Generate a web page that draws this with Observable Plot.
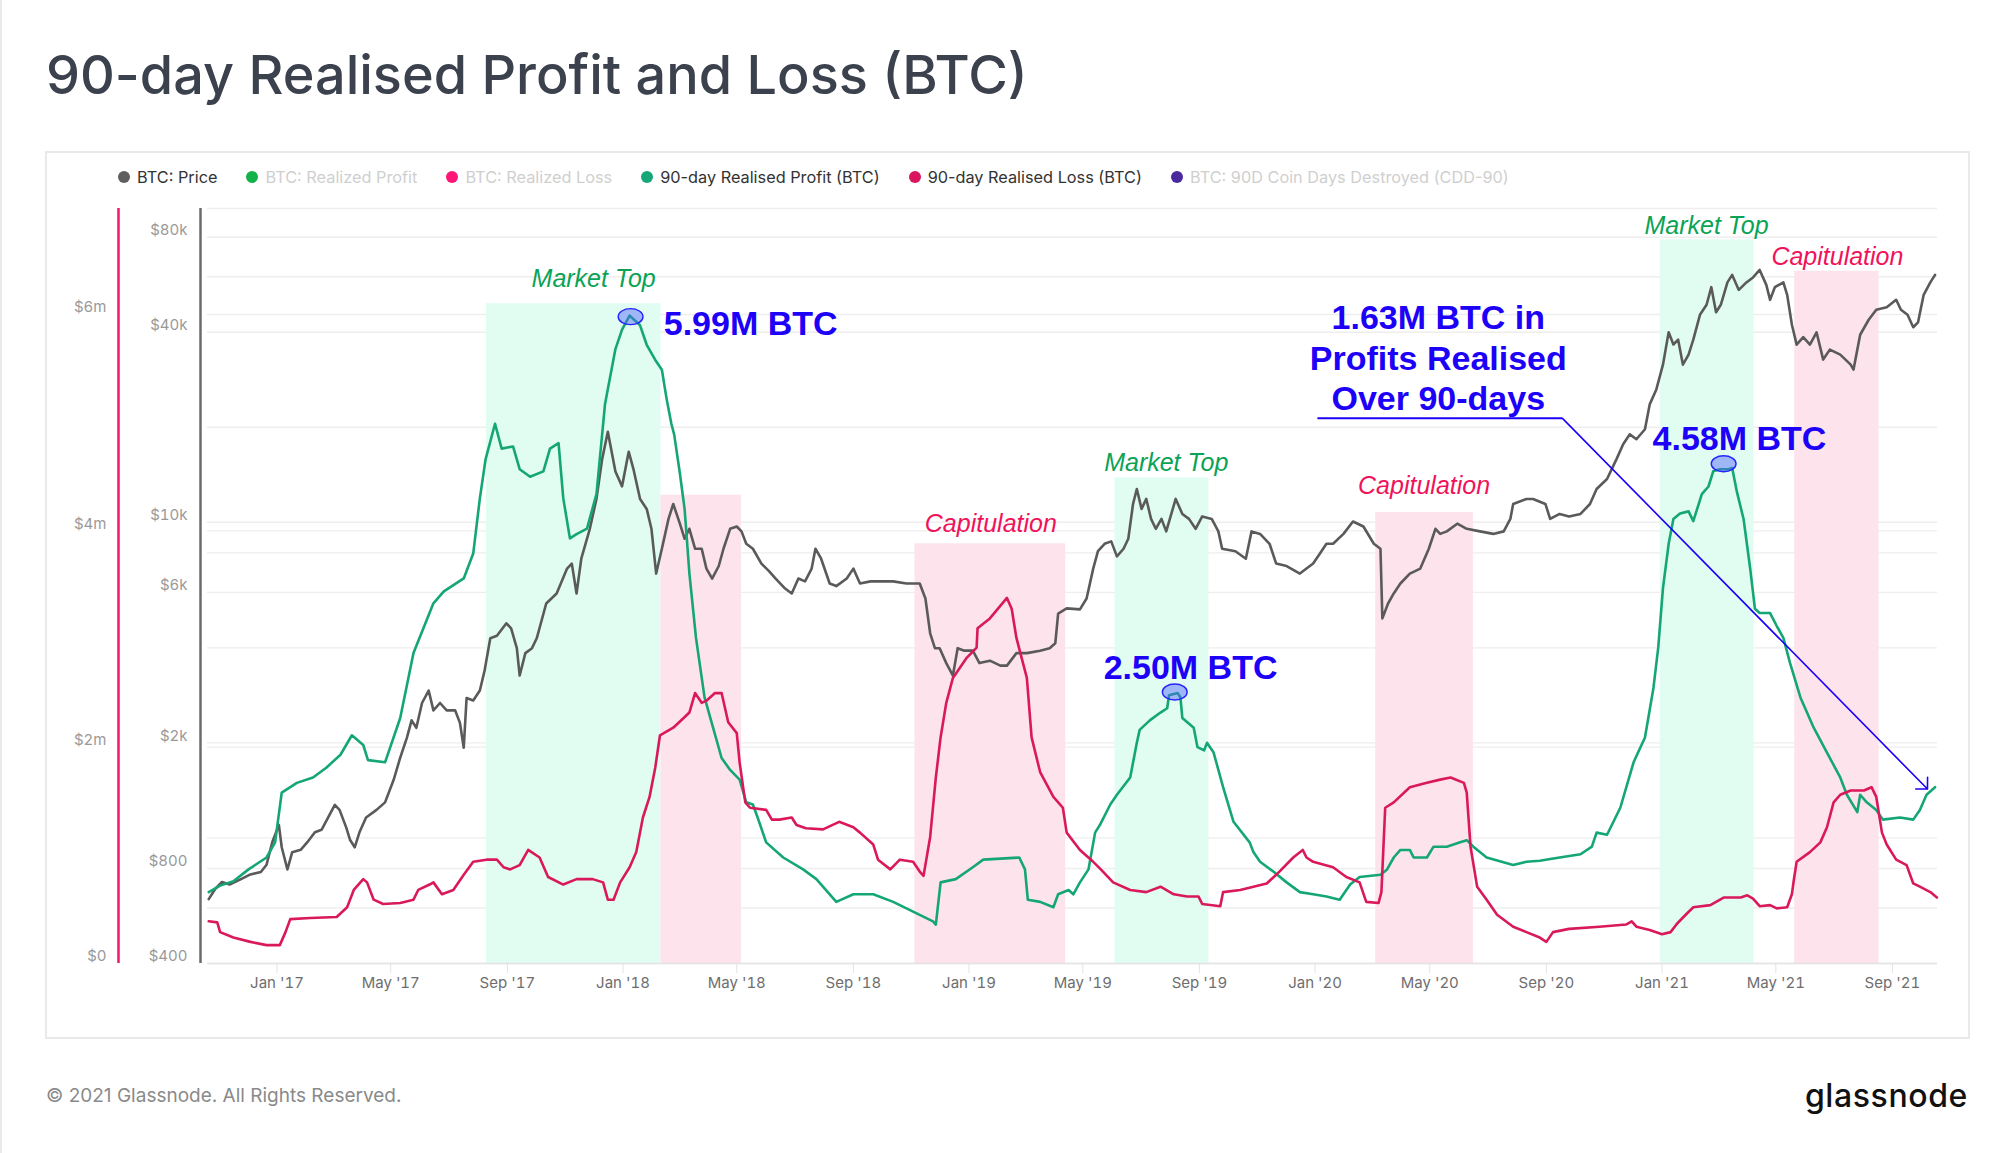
<!DOCTYPE html>
<html><head><meta charset="utf-8">
<script src="https://cdn.jsdelivr.net/npm/d3@7"></script>
<script src="https://cdn.jsdelivr.net/npm/@observablehq/plot@0.6"></script>
<style>
html,body{margin:0;padding:0;background:#fff;overflow:hidden;}
#page{position:relative;width:2000px;height:1153px;overflow:hidden;background:#fff;font-family:Inter,"Noto Sans",sans-serif;}
#edge{position:absolute;left:0;top:0;width:2px;height:1153px;background:#e9e9e9;}
#title{position:absolute;left:46px;top:48px;font-size:54px;line-height:54px;font-weight:500;color:#3b414d;white-space:nowrap;}
#card{position:absolute;left:45px;top:151px;width:1921px;height:884px;border:2px solid #e9e9e9;}
#legend{position:absolute;left:118px;top:167px;display:flex;align-items:center;font-size:16.3px;line-height:20px;white-space:nowrap;}
#legend .item{display:flex;align-items:center;margin-right:29px;}
#legend .dot{width:12px;height:12px;border-radius:50%;margin-right:7px;}
#chart{position:absolute;left:0;top:0;}
#footer{position:absolute;left:46px;top:1086px;font-size:19px;line-height:19px;color:#8a8a8a;white-space:nowrap;}
#logo{position:absolute;right:32px;top:1080px;font-size:32px;line-height:32px;font-weight:500;color:#111;letter-spacing:0.6px;}
</style></head>
<body>
<div id="page">
  <div id="edge"></div>
  <div id="title">90-day Realised Profit and Loss (BTC)</div>
  <div id="card"></div>
  <div id="legend"></div>
  <div id="chart"></div>
  <div id="footer">© 2021 Glassnode. All Rights Reserved.</div>
  <div id="logo">glassnode</div>
</div>
<script>
// ---------------- DATA ----------------
const legendLabels = ["BTC: Price","BTC: Realized Profit","BTC: Realized Loss","90-day Realised Profit (BTC)","90-day Realised Loss (BTC)","BTC: 90D Coin Days Destroyed (CDD-90)"];
const legendColors = ["#5f5f5f","#13b34a","#ff1577","#16a779","#d8155d","#4a2a9e"];
const legendActive = [true,false,false,true,true,false];

// 90-day realised profit, millions of BTC
const profit90d = [
["2016-10-21",0.66],["2016-11-02",0.72],["2016-11-16",0.76],["2016-12-02",0.87],["2016-12-21",0.98],["2016-12-30",1.12],
["2017-01-06",1.58],["2017-01-22",1.67],["2017-02-08",1.72],["2017-02-22",1.81],["2017-03-09",1.93],["2017-03-21",2.11],
["2017-04-02",2.02],["2017-04-07",1.88],["2017-04-25",1.86],["2017-05-11",2.27],["2017-05-25",2.87],["2017-06-15",3.33],
["2017-06-26",3.44],["2017-07-17",3.56],["2017-07-27",3.79],["2017-08-03",4.30],["2017-08-09",4.66],["2017-08-19",4.99],
["2017-08-26",4.76],["2017-09-07",4.78],["2017-09-14",4.57],["2017-09-25",4.50],["2017-10-09",4.55],["2017-10-16",4.76],
["2017-10-25",4.81],["2017-10-30",4.30],["2017-11-06",3.93],["2017-11-13",3.97],["2017-11-24",4.02],["2017-12-04",4.34],
["2017-12-13",5.17],["2017-12-24",5.68],["2017-12-31",5.86],["2018-01-08",5.99],["2018-01-19",5.90],["2018-01-26",5.72],
["2018-02-04",5.58],["2018-02-11",5.49],["2018-02-16",5.22],["2018-02-21",4.99],["2018-02-24",4.89],["2018-03-02",4.53],
["2018-03-07",4.20],["2018-03-12",3.61],["2018-03-19",3.01],["2018-03-28",2.46],["2018-04-06",2.18],["2018-04-15",1.90],
["2018-04-24",1.79],["2018-05-04",1.70],["2018-05-11",1.49],["2018-05-18",1.47],["2018-05-23",1.35],["2018-06-01",1.12],
["2018-06-19",0.98],["2018-07-10",0.87],["2018-07-24",0.78],["2018-08-14",0.57],["2018-09-01",0.64],["2018-09-22",0.64],
["2018-10-13",0.57],["2018-11-03",0.48],["2018-11-24",0.39],["2018-11-27",0.36],["2018-12-02",0.75],["2018-12-18",0.78],
["2019-01-05",0.89],["2019-01-16",0.96],["2019-02-23",0.98],["2019-03-01",0.87],["2019-03-04",0.59],["2019-03-17",0.57],
["2019-03-31",0.52],["2019-04-05",0.64],["2019-04-16",0.68],["2019-04-21",0.64],["2019-04-28",0.75],["2019-05-07",0.87],
["2019-05-14",1.21],["2019-05-19",1.28],["2019-05-30",1.47],["2019-06-06",1.56],["2019-06-20",1.72],["2019-06-27",2.04],
["2019-06-30",2.16],["2019-07-11",2.25],["2019-07-22",2.32],["2019-07-29",2.36],["2019-07-31",2.48],["2019-08-09",2.50],
["2019-08-12",2.46],["2019-08-14",2.27],["2019-08-26",2.18],["2019-08-30",2.00],["2019-09-06",1.97],["2019-09-09",2.04],
["2019-09-16",1.95],["2019-09-26",1.63],["2019-10-07",1.31],["2019-10-24",1.12],["2019-10-28",1.03],["2019-11-04",0.94],
["2019-11-18",0.85],["2019-12-02",0.75],["2019-12-16",0.66],["2019-12-30",0.64],["2020-01-13",0.62],["2020-01-27",0.59],
["2020-02-07",0.73],["2020-02-17",0.80],["2020-03-10",0.82],["2020-03-17",0.87],["2020-03-24",0.98],["2020-03-31",1.05],
["2020-04-10",1.05],["2020-04-14",0.98],["2020-04-28",0.98],["2020-05-05",1.08],["2020-05-19",1.08],["2020-06-02",1.12],
["2020-06-09",1.14],["2020-06-16",1.08],["2020-06-30",0.98],["2020-07-28",0.91],["2020-08-11",0.94],["2020-08-25",0.95],
["2020-09-15",0.98],["2020-10-07",1.01],["2020-10-19",1.08],["2020-10-24",1.21],["2020-11-04",1.19],["2020-11-18",1.44],
["2020-12-02",1.86],["2020-12-14",2.09],["2020-12-23",2.55],["2020-12-28",2.92],["2021-01-02",3.47],["2021-01-08",3.88],
["2021-01-13",4.11],["2021-01-20",4.16],["2021-01-29",4.18],["2021-02-03",4.09],["2021-02-12",4.34],["2021-02-19",4.41],
["2021-02-24",4.55],["2021-03-03",4.57],["2021-03-12",4.57],["2021-03-16",4.58],["2021-03-21",4.36],["2021-03-28",4.11],
["2021-04-04",3.65],["2021-04-09",3.28],["2021-04-14",3.24],["2021-04-25",3.24],["2021-05-02",3.12],["2021-05-09",3.01],
["2021-05-16",2.78],["2021-05-27",2.46],["2021-06-10",2.18],["2021-06-24",1.95],["2021-07-08",1.72],["2021-07-15",1.56],
["2021-07-26",1.40],["2021-07-29",1.56],["2021-08-05",1.49],["2021-08-15",1.42],["2021-08-22",1.33],["2021-09-09",1.35],
["2021-09-23",1.33],["2021-09-30",1.42],["2021-10-07",1.56],["2021-10-16",1.63]
];

// 90-day realised loss, millions of BTC
const loss90d = [
["2016-10-21",0.39],["2016-10-30",0.38],["2016-11-02",0.29],["2016-11-16",0.24],["2016-12-04",0.20],["2016-12-21",0.17],
["2017-01-04",0.17],["2017-01-10",0.29],["2017-01-15",0.41],["2017-02-05",0.42],["2017-03-05",0.43],["2017-03-16",0.52],
["2017-03-23",0.68],["2017-04-02",0.78],["2017-04-06",0.75],["2017-04-13",0.59],["2017-04-23",0.55],["2017-05-11",0.56],
["2017-05-25",0.59],["2017-05-30",0.68],["2017-06-11",0.73],["2017-06-15",0.75],["2017-06-24",0.64],["2017-07-06",0.68],
["2017-07-17",0.82],["2017-07-27",0.94],["2017-08-10",0.96],["2017-08-21",0.96],["2017-08-28",0.89],["2017-09-04",0.87],
["2017-09-14",0.91],["2017-09-23",1.05],["2017-10-05",0.98],["2017-10-14",0.80],["2017-10-30",0.73],["2017-11-13",0.78],
["2017-11-30",0.78],["2017-12-11",0.75],["2017-12-16",0.59],["2017-12-22",0.59],["2017-12-29",0.75],["2018-01-08",0.89],
["2018-01-15",1.03],["2018-01-22",1.35],["2018-01-29",1.54],["2018-02-04",1.81],["2018-02-09",2.11],["2018-02-23",2.18],
["2018-03-06",2.27],["2018-03-12",2.32],["2018-03-18",2.50],["2018-03-25",2.41],["2018-03-30",2.43],["2018-04-08",2.50],
["2018-04-15",2.50],["2018-04-22",2.23],["2018-05-01",2.13],["2018-05-04",1.86],["2018-05-10",1.49],["2018-05-15",1.44],
["2018-06-01",1.42],["2018-06-07",1.33],["2018-06-15",1.33],["2018-06-28",1.35],["2018-07-03",1.28],["2018-07-13",1.25],
["2018-07-31",1.24],["2018-08-17",1.31],["2018-09-01",1.26],["2018-09-08",1.21],["2018-09-22",1.10],["2018-09-27",0.96],
["2018-10-10",0.87],["2018-10-20",0.96],["2018-11-03",0.94],["2018-11-10",0.85],["2018-11-14",0.81],["2018-11-21",1.17],
["2018-11-27",1.72],["2018-12-02",2.09],["2018-12-08",2.41],["2018-12-15",2.64],["2018-12-29",2.82],["2019-01-09",2.92],
["2019-01-10",3.10],["2019-01-23",3.19],["2019-02-10",3.38],["2019-02-15",3.28],["2019-02-20",3.01],["2019-03-03",2.64],
["2019-03-08",2.09],["2019-03-17",1.77],["2019-03-31",1.54],["2019-04-10",1.44],["2019-04-14",1.21],["2019-04-28",1.05],
["2019-05-12",0.94],["2019-05-19",0.88],["2019-06-02",0.75],["2019-06-20",0.68],["2019-07-07",0.66],["2019-07-22",0.71],
["2019-08-05",0.64],["2019-08-19",0.62],["2019-08-31",0.62],["2019-09-04",0.55],["2019-09-23",0.53],["2019-09-26",0.66],
["2019-10-14",0.68],["2019-10-28",0.71],["2019-11-11",0.74],["2019-11-21",0.82],["2019-12-09",0.98],["2019-12-19",1.05],
["2019-12-23",0.98],["2019-12-30",0.94],["2020-01-20",0.89],["2020-02-03",0.80],["2020-02-17",0.75],["2020-02-24",0.57],
["2020-03-08",0.56],["2020-03-11",0.66],["2020-03-15",1.44],["2020-03-24",1.49],["2020-04-10",1.63],["2020-04-28",1.67],
["2020-05-12",1.70],["2020-05-23",1.72],["2020-06-06",1.67],["2020-06-09",1.58],["2020-06-13",1.08],["2020-06-20",0.71],
["2020-06-30",0.59],["2020-07-11",0.45],["2020-07-28",0.34],["2020-08-11",0.29],["2020-08-25",0.24],["2020-09-01",0.20],
["2020-09-08",0.29],["2020-09-25",0.32],["2020-10-27",0.34],["2020-11-24",0.36],["2020-11-30",0.39],["2020-12-05",0.34],
["2020-12-19",0.31],["2021-01-01",0.27],["2021-01-10",0.29],["2021-01-17",0.37],["2021-01-27",0.46],["2021-02-03",0.52],
["2021-02-21",0.54],["2021-03-07",0.61],["2021-03-25",0.61],["2021-04-01",0.63],["2021-04-07",0.60],["2021-04-14",0.53],
["2021-04-25",0.54],["2021-05-02",0.51],["2021-05-13",0.52],["2021-05-18",0.64],["2021-05-20",0.77],["2021-05-23",0.94],
["2021-06-06",1.03],["2021-06-17",1.12],["2021-06-24",1.26],["2021-07-01",1.49],["2021-07-08",1.56],["2021-07-19",1.60],
["2021-08-02",1.60],["2021-08-10",1.63],["2021-08-15",1.54],["2021-08-21",1.21],["2021-08-26",1.10],["2021-09-05",0.96],
["2021-09-16",0.91],["2021-09-23",0.74],["2021-09-30",0.71],["2021-10-11",0.66],["2021-10-18",0.61]
];

// BTC price, USD
const btcPrice = [
["2016-10-21",640],["2016-10-28",690],["2016-11-04",725],["2016-11-12",712],["2016-11-23",738],["2016-12-04",766],
["2016-12-15",780],["2016-12-21",822],["2016-12-27",969],["2017-01-03",1100],["2017-01-06",934],["2017-01-12",794],
["2017-01-17",900],["2017-01-26",917],["2017-02-02",969],["2017-02-10",1042],["2017-02-17",1061],["2017-02-24",1161],
["2017-03-03",1272],["2017-03-08",1227],["2017-03-15",1080],["2017-03-19",987],["2017-03-24",934],["2017-03-29",1042],
["2017-04-05",1161],["2017-04-16",1227],["2017-04-25",1296],["2017-05-04",1525],["2017-05-11",1796],["2017-05-18",2076],
["2017-05-23",2358],["2017-05-28",2233],["2017-06-03",2676],["2017-06-10",2930],["2017-06-15",2535],["2017-06-22",2676],
["2017-06-29",2535],["2017-07-08",2535],["2017-07-13",2315],["2017-07-17",1930],["2017-07-20",2775],["2017-07-27",2725],
["2017-08-03",2930],["2017-08-08",3390],["2017-08-14",4290],["2017-08-21",4370],["2017-08-31",4787],["2017-09-05",4614],
["2017-09-11",3992],["2017-09-14",3270],["2017-09-20",3850],["2017-09-27",3992],["2017-10-02",4290],["2017-10-12",5530],
["2017-10-23",5950],["2017-11-03",7134],["2017-11-08",7400],["2017-11-13",5950],["2017-11-18",7668],["2017-11-27",9538],
["2017-12-04",11860],["2017-12-10",15858],["2017-12-16",19350],["2017-12-24",14480],["2017-12-31",13000],["2018-01-07",16740],
["2018-01-12",14745],["2018-01-19",11860],["2018-01-26",11027],["2018-01-31",9538],["2018-02-05",6880],["2018-02-11",8247],
["2018-02-18",10253],["2018-02-23",11430],["2018-03-02",9900],["2018-03-07",8869],["2018-03-12",9538],["2018-03-18",8247],
["2018-03-25",8247],["2018-03-30",7134],["2018-04-05",6634],["2018-04-12",7270],["2018-04-17",8247],["2018-04-24",9538],
["2018-05-01",9700],["2018-05-06",9360],["2018-05-11",8550],["2018-05-18",8247],["2018-05-27",7400],["2018-06-04",7000],
["2018-06-11",6634],["2018-06-21",6168],["2018-06-28",5950],["2018-07-05",6634],["2018-07-12",6500],["2018-07-19",7134],
["2018-07-23",8247],["2018-07-29",7668],["2018-08-07",6400],["2018-08-14",6280],["2018-08-25",6634],["2018-09-01",7134],
["2018-09-08",6400],["2018-09-19",6500],["2018-09-29",6500],["2018-10-13",6500],["2018-10-27",6400],["2018-11-10",6400],
["2018-11-16",5736],["2018-11-21",4450],["2018-11-26",3992],["2018-12-01",3992],["2018-12-08",3580],["2018-12-15",3270],
["2018-12-20",3992],["2018-12-27",3920],["2019-01-05",3920],["2019-01-12",3580],["2019-01-23",3645],["2019-02-03",3515],
["2019-02-10",3515],["2019-02-20",3850],["2019-03-03",3850],["2019-03-17",3920],["2019-03-27",3992],["2019-04-02",4140],
["2019-04-05",5140],["2019-04-14",5336],["2019-04-28",5300],["2019-05-05",5736],["2019-05-12",7134],["2019-05-17",8100],
["2019-05-24",8550],["2019-05-31",8700],["2019-06-06",7800],["2019-06-13",8247],["2019-06-18",8869],["2019-06-23",11430],
["2019-06-27",12755],["2019-07-02",11027],["2019-07-07",11860],["2019-07-12",10253],["2019-07-17",9538],["2019-07-23",10253],
["2019-07-28",9360],["2019-08-07",11860],["2019-08-14",10630],["2019-08-21",10253],["2019-08-28",9538],["2019-09-04",10440],
["2019-09-14",10253],["2019-09-21",9360],["2019-09-25",8247],["2019-10-09",8100],["2019-10-20",7668],["2019-10-26",9360],
["2019-11-04",9190],["2019-11-14",8550],["2019-11-21",7400],["2019-12-02",7270],["2019-12-16",6880],["2019-12-30",7400],
["2020-01-06",7950],["2020-01-13",8550],["2020-01-20",8550],["2020-01-31",9190],["2020-02-10",10060],["2020-02-21",9700],
["2020-03-03",8550],["2020-03-10",8247],["2020-03-12",4962],["2020-03-18",5530],["2020-03-24",5950],["2020-03-31",6400],
["2020-04-10",6880],["2020-04-21",7134],["2020-04-30",8247],["2020-05-07",9538],["2020-05-12",9190],["2020-05-19",9360],
["2020-05-30",9900],["2020-06-09",9538],["2020-06-23",9360],["2020-07-07",9190],["2020-07-18",9360],["2020-07-25",10253],
["2020-07-28",11430],["2020-08-11",11860],["2020-08-18",11860],["2020-08-31",11430],["2020-09-05",10253],["2020-09-15",10630],
["2020-09-25",10440],["2020-10-07",10630],["2020-10-17",11430],["2020-10-24",12755],["2020-11-04",13711],["2020-11-14",15858],
["2020-11-21",17680],["2020-11-28",19000],["2020-12-05",18334],["2020-12-14",19718],["2020-12-19",23640],["2020-12-26",26366],
["2021-01-02",31600],["2021-01-08",40000],["2021-01-13",36600],["2021-01-18",37918],["2021-01-23",31600],["2021-01-29",33990],
["2021-02-03",37918],["2021-02-10",45450],["2021-02-17",48900],["2021-02-22",55600],["2021-02-27",46300],["2021-03-04",48900],
["2021-03-11",57560],["2021-03-16",60800],["2021-03-23",54500],["2021-03-31",57560],["2021-04-07",59700],["2021-04-14",63043],
["2021-04-21",56540],["2021-04-25",50700],["2021-04-30",55600],["2021-05-09",57560],["2021-05-13",52580],["2021-05-18",42270],
["2021-05-23",36560],["2021-05-30",38620],["2021-06-06",36560],["2021-06-13",40000],["2021-06-20",32780],["2021-06-27",35256],
["2021-07-08",33990],["2021-07-19",31600],["2021-07-22",30480],["2021-07-29",39290],["2021-08-07",43835],["2021-08-15",47145],
["2021-08-26",48000],["2021-09-05",50700],["2021-09-10",47145],["2021-09-17",45450],["2021-09-23",41500],["2021-09-28",43000],
["2021-10-04",52580],["2021-10-11",57560],["2021-10-16",60800]
];

// shaded periods: [start, end, top (millions BTC)]
const marketTopZones = [["2017-08-10","2018-02-10",6.10],["2019-06-04","2019-09-11",4.49],["2020-12-30","2021-04-08",6.69]];
const capitulationZones = [["2018-02-10","2018-05-06",4.33],["2018-11-05","2019-04-13",3.88],["2020-03-05","2020-06-16",4.17],["2021-05-21","2021-08-18",6.40]];

// annotations (date, value in millions BTC)
const zoneLabels = [["2017-12-01",6.33,"Market Top","top"],["2019-07-28",4.63,"Market Top","top"],["2021-02-17",6.82,"Market Top","top"],
                    ["2019-01-24",4.06,"Capitulation","cap"],["2020-04-25",4.41,"Capitulation","cap"],["2021-07-05",6.53,"Capitulation","cap"]];
const peakLabels = [["2018-02-13",5.91,"5.99M BTC"],["2019-05-23",2.73,"2.50M BTC"],["2020-12-22",4.846,"4.58M BTC"]];
const peakMarkers = [["2018-01-09",5.98],["2019-08-06",2.51],["2021-03-07",4.62]];
const callout = [["2020-05-10",5.61,"1.63M BTC in\nProfits Realised\nOver 90-days"]];
const calloutUnderline = [["2020-01-04","2020-09-18",5.04]];
const calloutArrow = [["2020-09-18",5.04,"2021-10-08",1.613]];

// axes
const leftTicks = [0, 2, 4, 6];
const leftTickLabels = ["$0", "$2m", "$4m", "$6m"];
const priceTicks = [400, 800, 2000, 6000, 10000, 40000, 80000];
const priceTickLabels = ["$400", "$800", "$2k", "$6k", "$10k", "$40k", "$80k"];
const priceGrid = [400, 600, 800, 1000, 2000, 4000, 6000, 8000, 10000, 20000, 40000, 60000, 80000];
const xTicks = ["2017-01-01","2017-05-01","2017-09-01","2018-01-01","2018-05-01","2018-09-01","2019-01-01","2019-05-01",
                "2019-09-01","2020-01-01","2020-05-01","2020-09-01","2021-01-01","2021-05-01","2021-09-01"];

// scale domains
const xDomain = [new Date("2016-10-19T17:00Z"), new Date("2021-10-18T14:00Z")];
const YMAX = 6.98;              // millions BTC at top of plot
const PRICE_MIN = 400, PRICE_DOUBLINGS = 7.947; // log price axis sharing the same vertical range

// ---------------- BUILD ----------------
const py = p => Math.log2(p / PRICE_MIN) / PRICE_DOUBLINGS * YMAX;
const rows = arr => arr.map(([d, v]) => ({date: new Date(d), value: v}));
const profitRows = rows(profit90d), lossRows = rows(loss90d), priceRows = rows(btcPrice);
const zoneRows = arr => arr.map(([a, b, t]) => ({start: new Date(a), end: new Date(b), top: t}));
const leftLabelMap = new Map(leftTicks.map((t, i) => [t, leftTickLabels[i]]));
const priceY = priceTicks.map(py);
const priceLabelMap = new Map(priceY.map((t, i) => [t, priceTickLabels[i]]));
const gridValues = [...leftTicks.filter(d => d > 0), ...priceGrid.map(py), YMAX];
const xTickDates = xTicks.map(d => new Date(d));

const ellipse = {
  draw(ctx, size) {
    const r = Math.sqrt(size / Math.PI), rx = r * 1.55, ry = r, k = 0.5523;
    ctx.moveTo(rx, 0);
    ctx.bezierCurveTo(rx, k * ry, k * rx, ry, 0, ry);
    ctx.bezierCurveTo(-k * rx, ry, -rx, k * ry, -rx, 0);
    ctx.bezierCurveTo(-rx, -k * ry, -k * rx, -ry, 0, -ry);
    ctx.bezierCurveTo(k * rx, -ry, rx, -k * ry, rx, 0);
    ctx.closePath();
  }
};

const BLUE = "#1c00f7";
const ANN_FONT = "'Liberation Sans', Arial, sans-serif";

const chart = Plot.plot({
  width: 2000, height: 1153,
  marginTop: 208, marginBottom: 190, marginLeft: 207, marginRight: 63,
  style: {background: "transparent", fontFamily: "Inter, sans-serif", fontSize: "15px", overflow: "visible"},
  x: {type: "utc", domain: xDomain},
  y: {domain: [0, YMAX]},
  marks: [
    Plot.gridY(gridValues, {stroke: "#eeeeee", strokeOpacity: 1, strokeWidth: 1.4}),
    Plot.rect(zoneRows(marketTopZones), {x1: "start", x2: "end", y1: 0, y2: "top", fill: "#e1fcf0"}),
    Plot.rect(zoneRows(capitulationZones), {x1: "start", x2: "end", y1: 0, y2: "top", fill: "#fde3ec"}),
    Plot.ruleY([0], {stroke: "#e3e3e3", strokeWidth: 1.5}),
    Plot.axisX({ticks: xTickDates, tickSize: 10, tickFormat: () => "", stroke: "#e3e3e3", label: null}),
    Plot.axisX({ticks: xTickDates, tickSize: 0, tickPadding: 14, tickFormat: d3.utcFormat("%b '%y"), color: "#6e6e6e", label: null}),
    Plot.ruleX([xDomain[0]], {y1: 0, y2: YMAX, dx: -89, stroke: "#f5176f", strokeWidth: 2.5}),
    Plot.ruleX([xDomain[0]], {y1: 0, y2: YMAX, dx: -7, stroke: "#6b6b6b", strokeWidth: 2.5}),
    Plot.axisY({ticks: leftTicks, tickSize: 0, tickPadding: 101, dy: -7, tickFormat: d => leftLabelMap.get(d), color: "#999999", label: null}),
    Plot.axisY({ticks: priceY, tickSize: 0, tickPadding: 20, dy: -7, tickFormat: d => priceLabelMap.get(d), color: "#999999", label: null}),
    Plot.line(priceRows, {x: "date", y: d => py(d.value), stroke: "#5a5a5a", strokeWidth: 2.6}),
    Plot.line(profitRows, {x: "date", y: "value", stroke: "#15a676", strokeWidth: 2.6}),
    Plot.line(lossRows, {x: "date", y: "value", stroke: "#d9195c", strokeWidth: 2.6}),
    Plot.dot(peakMarkers, {x: d => new Date(d[0]), y: d => d[1], r: 8, symbol: ellipse, fill: "#4f63ff", fillOpacity: 0.45, stroke: "#2424ff", strokeWidth: 1.4}),
    Plot.text(zoneLabels, {x: d => new Date(d[0]), y: d => d[1], text: d => d[2], fill: d => d[3] === "top" ? "#0aa356" : "#f0125a",
      fontFamily: ANN_FONT, fontStyle: "italic", fontSize: 25, textAnchor: "middle", lineAnchor: "middle"}),
    Plot.text(peakLabels, {x: d => new Date(d[0]), y: d => d[1], text: d => d[2], fill: BLUE,
      fontFamily: ANN_FONT, fontWeight: "bold", fontSize: 34, textAnchor: "start", lineAnchor: "middle"}),
    Plot.text(callout, {x: d => new Date(d[0]), y: d => d[1], text: d => d[2], fill: BLUE,
      fontFamily: ANN_FONT, fontWeight: "bold", fontSize: 34, textAnchor: "middle", lineAnchor: "middle", lineHeight: 1.18}),
    Plot.ruleY(calloutUnderline, {x1: d => new Date(d[0]), x2: d => new Date(d[1]), y: d => d[2], stroke: BLUE, strokeWidth: 2}),
    Plot.arrow(calloutArrow, {x1: d => new Date(d[0]), y1: d => d[1], x2: d => new Date(d[2]), y2: d => d[3],
      stroke: BLUE, strokeWidth: 1.6, headLength: 11, headAngle: 90})
  ]
});
document.getElementById("chart").appendChild(chart);

// legend
const legend = document.getElementById("legend");
legendLabels.forEach((lab, i) => {
  const item = document.createElement("div");
  item.className = "item";
  const dot = document.createElement("span");
  dot.className = "dot";
  dot.style.background = legendColors[i];
  const txt = document.createElement("span");
  txt.textContent = lab;
  txt.style.color = legendActive[i] ? "#333333" : "#cfcfcf";
  item.appendChild(dot); item.appendChild(txt);
  legend.appendChild(item);
});
</script>
</body></html>
